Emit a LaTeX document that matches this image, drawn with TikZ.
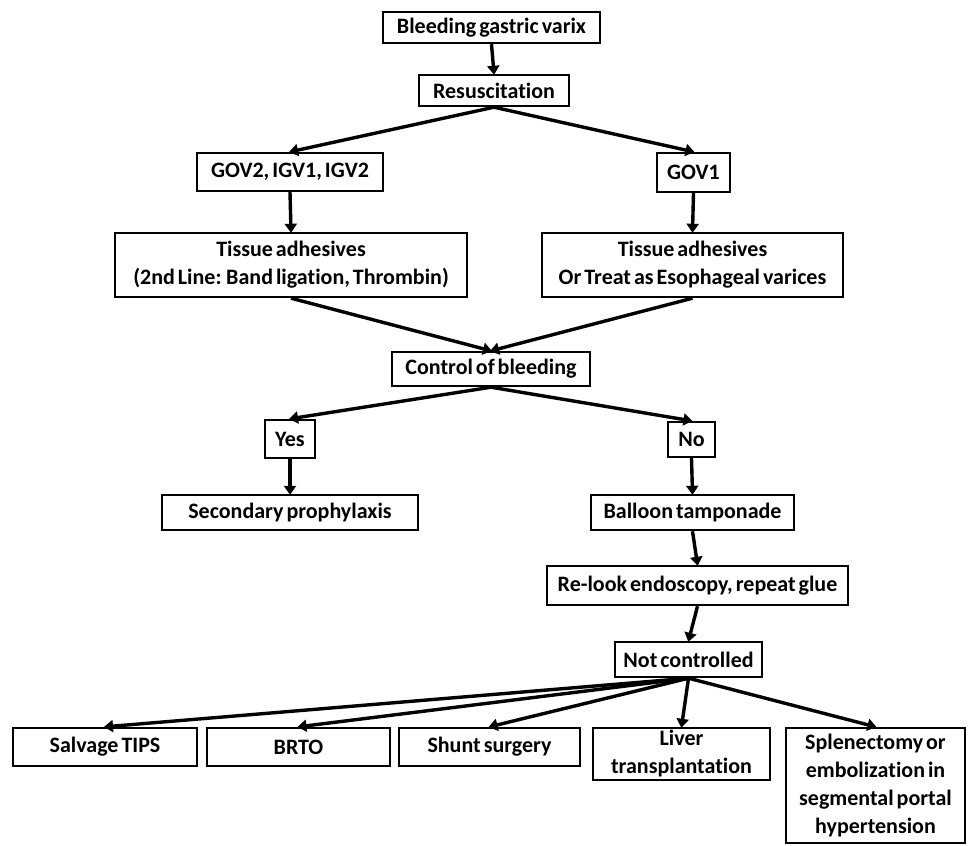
\documentclass[tikz,border=0pt]{standalone}
\usepackage{fontspec}
\setmainfont{Carlito}[WordSpace={0.6,0.6,0.6},Ligatures=NoCommon]
\usetikzlibrary{arrows.meta}
\tikzset{
  box/.style={draw=black, line width=2.4pt, fill=white, inner sep=0pt, align=center,
    font=\fontsize{22}{28}\selectfont\bfseries, minimum width=#1},
  conn/.style={line width=3.4pt, -{Triangle[length=9pt,width=12pt]}, shorten >=-1pt}
}
\begin{document}
\begin{tikzpicture}[x=1pt,y=-1pt]
\useasboundingbox (0,0) rectangle (968,845);
\node[box=217pt, minimum height=31pt] (b1) at (491.5,27.5) {Bleeding gastric varix};
\node[box=150pt, minimum height=31pt] (res) at (494,90.5) {Resuscitation};
\node[box=186pt, minimum height=38pt] (gov2) at (290,172) {GOV2, IGV1, IGV2};
\node[box=73pt, minimum height=39pt] (gov1) at (693.5,172.5) {GOV1};
\node[box=352pt, minimum height=64pt] (tl) at (291,265) {Tissue adhesives\\(2nd Line: Band ligation, Thrombin)};
\node[box=301pt, minimum height=64pt] (tr) at (692.5,265) {Tissue adhesives\\Or Treat as Esophageal varices};
\node[box=198pt, minimum height=34pt] (ctrl) at (491,369) {Control of bleeding};
\node[box=50pt, minimum height=38pt] (yes) at (290,439) {Yes};
\node[box=47pt, minimum height=35pt] (no) at (691.5,439.5) {No};
\node[box=256pt, minimum height=35pt] (sec) at (290,512.5) {Secondary prophylaxis};
\node[box=203pt, minimum height=35pt] (bal) at (692.5,512.5) {Balloon tamponade};
\node[box=301pt, minimum height=39pt] (rel) at (697.5,585.5) {Re-look endoscopy, repeat glue};
\node[box=147pt, minimum height=35pt] (nc) at (688.5,659.5) {Not controlled};
\node[box=184pt, minimum height=38pt] (tips) at (105,747) {Salvage TIPS};
\node[box=183pt, minimum height=38pt] (brto) at (298.5,747) {BRTO};
\node[box=181pt, minimum height=38pt] (shunt) at (489.5,747) {Shunt surgery};
\node[box=177pt, minimum height=52pt] (liver) at (681.5,754) {Liver\\transplantation};
\node[box=179pt, minimum height=115pt] (spl) at (875.5,785.5) {Splenectomy or\\embolization in\\segmental portal\\hypertension};
\draw[conn] (b1.south) -- (res.north);
\draw[conn] (res.south) -- (gov2.north);
\draw[conn] (res.south) -- (gov1.north);
\draw[conn] (gov2.south) -- (tl.north);
\draw[conn] (gov1.south) -- (tr.north);
\draw[conn] (tl.south) -- (ctrl.north);
\draw[conn] (tr.south) -- (ctrl.north);
\draw[conn] (ctrl.south) -- (yes.north);
\draw[conn] (ctrl.south) -- (no.north);
\draw[conn] (yes.south) -- (sec.north);
\draw[conn] (no.south) -- (bal.north);
\draw[conn] (bal.south) -- (rel.north);
\draw[conn] (rel.south) -- (nc.north);
\draw[conn] (nc.south) -- (tips.north);
\draw[conn] (nc.south) -- (brto.north);
\draw[conn] (nc.south) -- (shunt.north);
\draw[conn] (nc.south) -- (liver.north);
\draw[conn] (nc.south) -- (spl.north);
\end{tikzpicture}
\end{document}
